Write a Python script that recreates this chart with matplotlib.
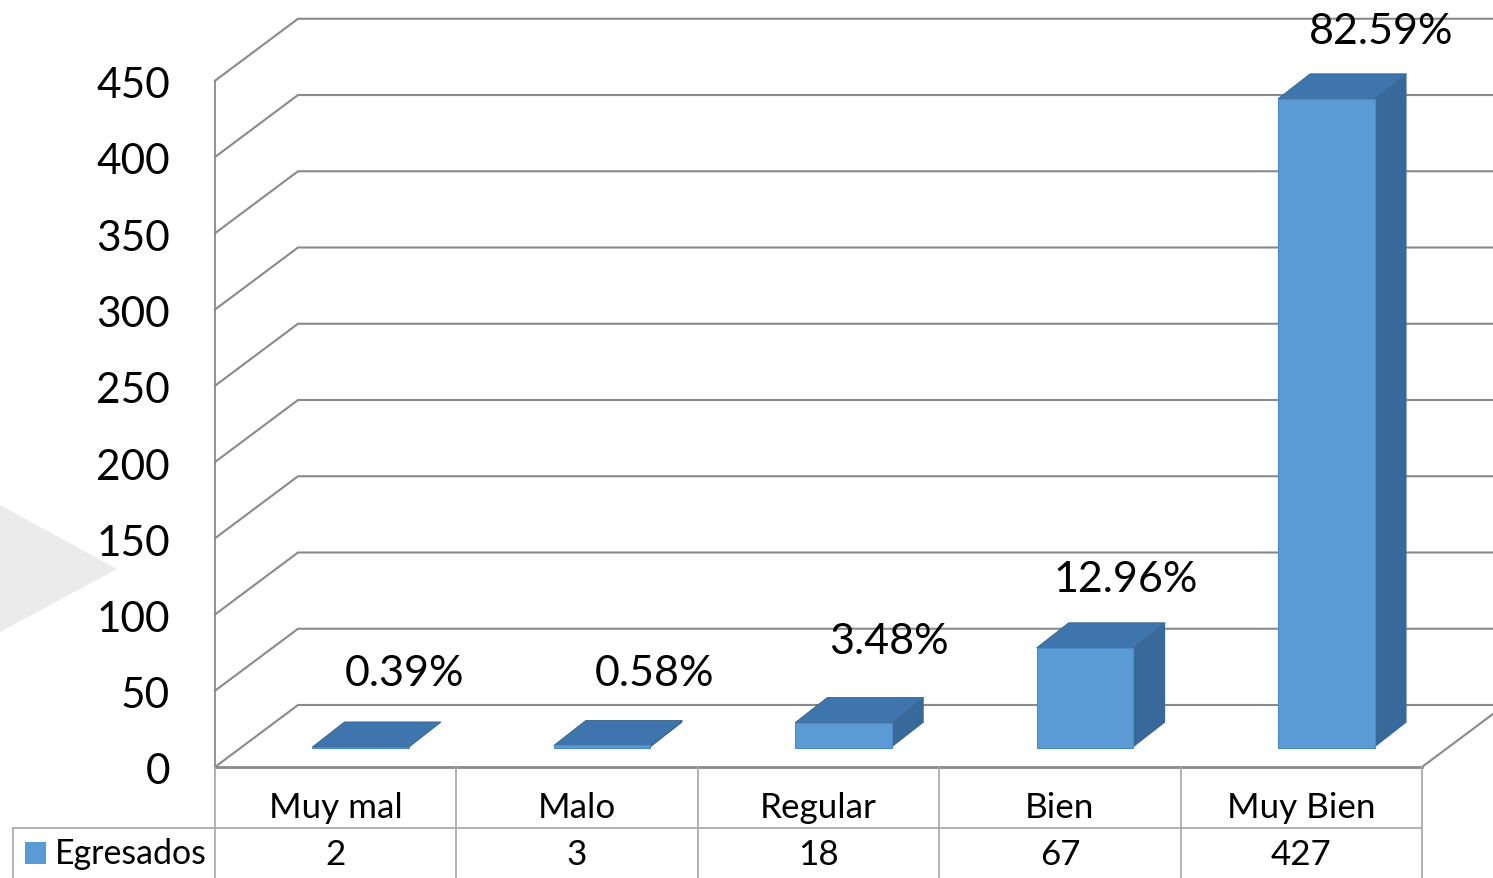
import matplotlib
matplotlib.use("Agg")
import matplotlib.pyplot as plt
from matplotlib.patches import Polygon
from matplotlib.transforms import ScaledTranslation

plt.rcParams['font.family'] = ['Lato', 'DejaVu Sans']

# ---- data ----
categories = ["Muy mal", "Malo", "Regular", "Bien", "Muy Bien"]
egresados = [2, 3, 18, 67, 427]
percent_labels = ["0.39%", "0.58%", "3.48%", "12.96%", "82.59%"]
y_ticks = [0, 50, 100, 150, 200, 250, 300, 350, 400, 450]
series_name = "Egresados"

# ---- layout (pixels of the 1493x879 canvas) ----
W, H = 1493, 879
LEFT, RIGHT, BASE = 215, 1422, 768
PX_PER_VALUE = 1.525
PX_PER_CAT = (RIGHT - LEFT) / len(categories)
WALL_DX, WALL_DY = 83, 62
BAR_W, BAR_SHIFT, BAR_LIFT, BAR_INSET = 96.5, 25, 19.5, 2.5
CAP_DX, CAP_DY = 32, 25
label_dx = [69, 77, 70, 66, 80]
label_dy = [71, 70, 79, 66, 65]

fig = plt.figure(figsize=(W / 100, H / 100), dpi=100, facecolor="white")
top_px = BASE - 450 * PX_PER_VALUE
ax = fig.add_axes([LEFT / W, 1 - BASE / H, (RIGHT - LEFT) / W, (BASE - top_px) / H])
ax.set_xlim(0, len(categories))
ax.set_ylim(0, 450)
ax.patch.set_visible(False)
for s in ax.spines.values():
    s.set_visible(False)

dx = lambda px: px / PX_PER_CAT
dy = lambda px: px / PX_PER_VALUE
X = lambda px: (px - LEFT) / PX_PER_CAT
Y = lambda px: (BASE - px) / PX_PER_VALUE

GRID = "#8a8a8a"
TABLE = "#a6a6a6"
FRONT, TOP, SIDE = "#5b9bd5", "#3f75ad", "#38699a"
FS = 30.5
FS_T = 25.2

# backdrop triangle
ax.add_patch(Polygon([(X(0), Y(506)), (X(117), Y(570)), (X(0), Y(633))],
                     closed=True, fc="#ebebeb", ec="none", clip_on=False, zorder=0))

# walls and floor
for v in y_ticks:
    ax.plot([0, dx(WALL_DX), X(W + 10)],
            [v, v + dy(WALL_DY), v + dy(WALL_DY)],
            color=GRID, lw=1.5, clip_on=False, zorder=1, solid_joinstyle="miter")
ax.plot([0, 0], [0, 450], color=GRID, lw=1.3, clip_on=False, zorder=1)
ax.plot([0, len(categories)], [0, 0], color=GRID, lw=2, clip_on=False, zorder=1)
ax.plot([len(categories), len(categories) + dx(WALL_DX)], [0, dy(WALL_DY)],
        color=GRID, lw=1.5, clip_on=False, zorder=1)

# 3D bars
bottom = dy(BAR_LIFT)
width = dx(BAR_W)
inset = dy(BAR_INSET)
centers = [i + 0.5 + dx(BAR_SHIFT) for i in range(len(categories))]
ax.bar(centers, [v - inset for v in egresados], width=width, bottom=bottom, color=FRONT,
       edgecolor="#4a8bc8", linewidth=0.8, zorder=4, clip_on=False)
for c, v in zip(centers, egresados):
    l, r = c - width / 2, c + width / 2
    t = bottom + v - inset
    ax.add_patch(Polygon([(l, t), (r, t), (r + dx(CAP_DX), t + dy(CAP_DY)), (l + dx(CAP_DX), t + dy(CAP_DY))],
                         closed=True, fc=TOP, ec="#35618e", lw=0.6, zorder=3, clip_on=False))
    ax.add_patch(Polygon([(r, bottom), (r + dx(CAP_DX), bottom + dy(CAP_DY)),
                          (r + dx(CAP_DX), t + dy(CAP_DY)), (r, t)],
                         closed=True, fc=SIDE, ec="none", zorder=3, clip_on=False))

# percentage labels
for i, (lab, v) in enumerate(zip(percent_labels, egresados)):
    ax.text(i + 0.5 + dx(label_dx[i]), bottom + v + dy(label_dy[i]), lab,
            fontsize=31, color="black", ha="center", va="center", zorder=6, clip_on=False)

# value axis
ax.set_yticks(y_ticks)
ax.tick_params(axis="y", length=0, pad=32.5, labelsize=FS, labelcolor="black")
shift = ScaledTranslation(0, -1 / 100, fig.dpi_scale_trans)
for t in ax.get_yticklabels():
    t.set_transform(t.get_transform() + shift)

# data table
ROW1, ROW2, TBL_L = 828.5, H + 5, 13
ax.set_xticks([i + 0.5 for i in range(len(categories))], categories)
ax.tick_params(axis="x", length=0, pad=17.5, labelsize=FS_T, labelcolor="black")
for i in range(len(categories) + 1):
    ax.plot([i, i], [0, Y(ROW2)], color=TABLE, lw=1.2, clip_on=False, zorder=2)
ax.plot([X(TBL_L), len(categories)], [Y(ROW1), Y(ROW1)], color=TABLE, lw=1.2, clip_on=False, zorder=2)
ax.plot([X(TBL_L), X(TBL_L)], [Y(ROW1), Y(ROW2)], color=TABLE, lw=1.2, clip_on=False, zorder=2)
for i, v in enumerate(egresados):
    ax.text(i + 0.5, Y(855), str(v), fontsize=FS_T, ha="center", va="center", clip_on=False)
ax.add_patch(Polygon([(X(25), Y(843)), (X(46), Y(843)), (X(46), Y(865)), (X(25), Y(865))],
                     closed=True, fc=FRONT, ec="none", clip_on=False))
ax.text(X(55), Y(854), series_name, fontsize=24.4, ha="left", va="center", clip_on=False)

fig.savefig("out.png", dpi=100)
